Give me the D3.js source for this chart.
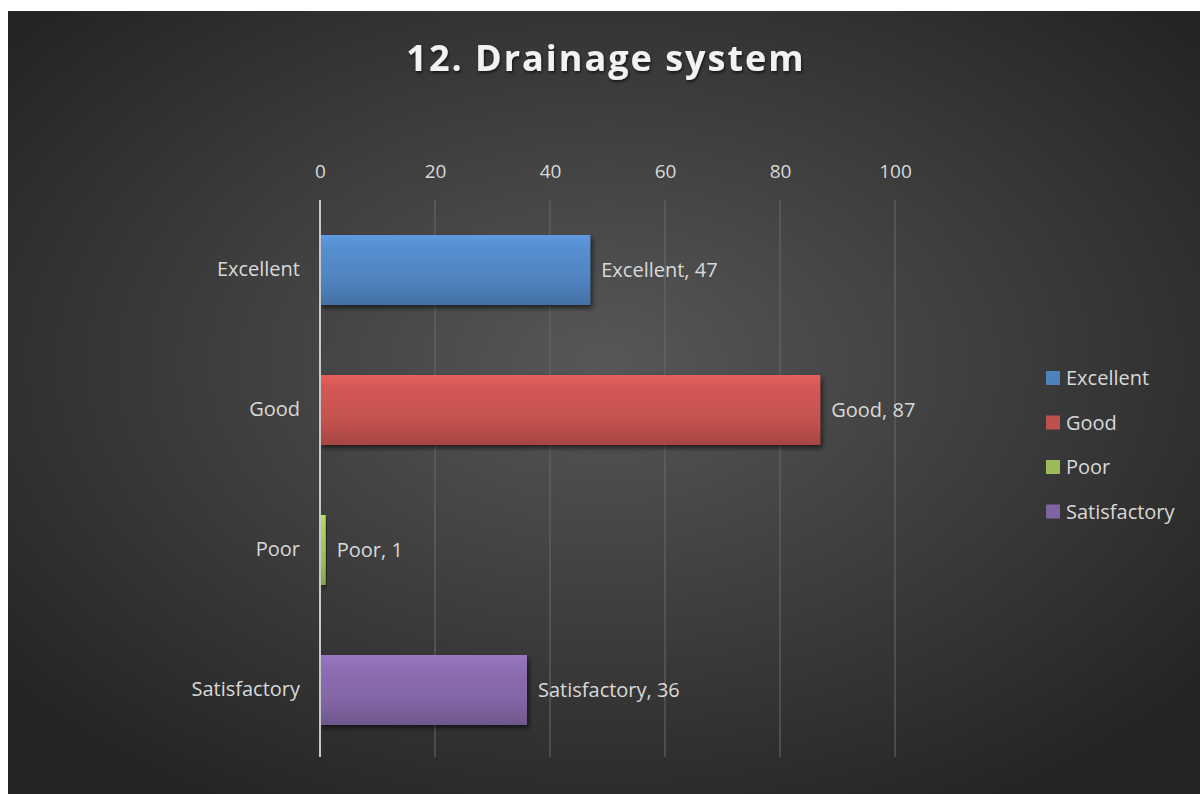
<!DOCTYPE html>
<html>
<head>
<meta charset="utf-8">
<script src="https://cdn.jsdelivr.net/npm/d3@7"></script>
<style>
  body { margin: 0; background: #fff; }
  text { font-family: "Open Sans", "Liberation Sans", sans-serif; }
</style>
</head>
<body>
<script>
// chart data
const categories = ["Excellent", "Good", "Poor", "Satisfactory"];
const values = [47, 87, 1, 36];
const ticks = [0, 20, 40, 60, 80, 100];
const colors = ["#4f81bd", "#c0504d", "#9bbb59", "#8064a2"];
const title = "12. Drainage system";

const W = 1200, H = 794;
const svg = d3.select("body").append("svg").attr("width", W).attr("height", H);
const defs = svg.append("defs");

// background - radial, lighter in the middle
const bg = defs.append("radialGradient").attr("id", "bg")
    .attr("cx", "50%").attr("cy", "45%").attr("r", "65%");
bg.append("stop").attr("offset", "0%").attr("stop-color", "#575757");
bg.append("stop").attr("offset", "100%").attr("stop-color", "#242424");
svg.append("rect").attr("x", 8).attr("y", 11).attr("width", W - 8).attr("height", H - 11)
    .attr("fill", "url(#bg)");

// bar gradients
colors.forEach((c, i) => {
    const g = defs.append("linearGradient").attr("id", "bar" + i)
        .attr("x1", 0).attr("y1", 0).attr("x2", 0).attr("y2", 1);
    const base = d3.color(c);
    g.append("stop").attr("offset", "0%").attr("stop-color", base.brighter(0.5));
    g.append("stop").attr("offset", "15%").attr("stop-color", base.brighter(0.3));
    g.append("stop").attr("offset", "70%").attr("stop-color", base);
    g.append("stop").attr("offset", "100%").attr("stop-color", base.darker(0.4));
});
const sh = defs.append("filter").attr("id", "shadow")
    .attr("x", "-10%").attr("y", "-20%").attr("width", "130%").attr("height", "150%");
sh.append("feDropShadow").attr("dx", 2).attr("dy", 3).attr("stdDeviation", 2.5)
    .attr("flood-color", "#000").attr("flood-opacity", 0.6);
const tsh = defs.append("filter").attr("id", "tshadow");
tsh.append("feDropShadow").attr("dx", 1).attr("dy", 2).attr("stdDeviation", 1.5)
    .attr("flood-color", "#000").attr("flood-opacity", 0.6);

const x = d3.scaleLinear().domain([0, 100]).range([320, 895]);
const y = d3.scaleBand().domain(categories).range([200, 760]).paddingInner(0.5).paddingOuter(0.25);

// gridlines
svg.append("g").selectAll("line").data(ticks.slice(1)).join("line")
    .attr("x1", d => x(d)).attr("x2", d => x(d))
    .attr("y1", 200).attr("y2", 757)
    .attr("stroke", "#6a6a6a").attr("stroke-width", 1);

// top axis labels
const xAxis = svg.append("g").attr("transform", "translate(0,178)")
    .call(d3.axisTop(x).tickValues(ticks).tickSize(0).tickPadding(0));
xAxis.select(".domain").remove();
xAxis.selectAll("text").attr("fill", "#d9d9d9").attr("font-size", 19)
    .style("font-family", "'Open Sans', sans-serif");

// bars
svg.append("g").selectAll("rect").data(values).join("rect")
    .attr("x", x(0))
    .attr("y", (d, i) => y(categories[i]))
    .attr("width", d => x(d) - x(0))
    .attr("height", y.bandwidth())
    .attr("fill", (d, i) => `url(#bar${i})`)
    .attr("filter", "url(#shadow)");

// vertical axis line at 0
svg.append("line").attr("x1", x(0)).attr("x2", x(0)).attr("y1", 200).attr("y2", 757)
    .attr("stroke", "#c8c8c8").attr("stroke-width", 2);

// category labels
const yAxis = svg.append("g").attr("transform", `translate(${x(0) - 20},0)`)
    .call(d3.axisLeft(y).tickSize(0).tickPadding(0));
yAxis.select(".domain").remove();
yAxis.selectAll("text").attr("fill", "#d9d9d9").attr("font-size", 20)
    .style("font-family", "'Open Sans', sans-serif");

// data labels
svg.append("g").selectAll("text").data(values).join("text")
    .attr("x", d => x(d) + 11)
    .attr("y", (d, i) => y(categories[i]) + y.bandwidth() / 2)
    .attr("dy", "0.35em")
    .attr("fill", "#d9d9d9").attr("font-size", 20)
    .text((d, i) => `${categories[i]}, ${d}`);

// legend
const leg = svg.append("g").selectAll("g").data(categories).join("g")
    .attr("transform", (d, i) => `translate(1046,${378 + i * 44.5})`);
leg.append("rect").attr("x", 0).attr("y", -7).attr("width", 14).attr("height", 14)
    .attr("fill", (d, i) => colors[i]);
leg.append("text").attr("x", 20).attr("dy", "0.35em")
    .attr("fill", "#d9d9d9").attr("font-size", 20).text(d => d);

// title
svg.append("text").attr("x", 606).attr("y", 71).attr("text-anchor", "middle")
    .attr("fill", "#f2f2f2").attr("font-size", 36).attr("font-weight", "bold")
    .attr("letter-spacing", 2).attr("filter", "url(#tshadow)")
    .text(title);
</script>
</body>
</html>
